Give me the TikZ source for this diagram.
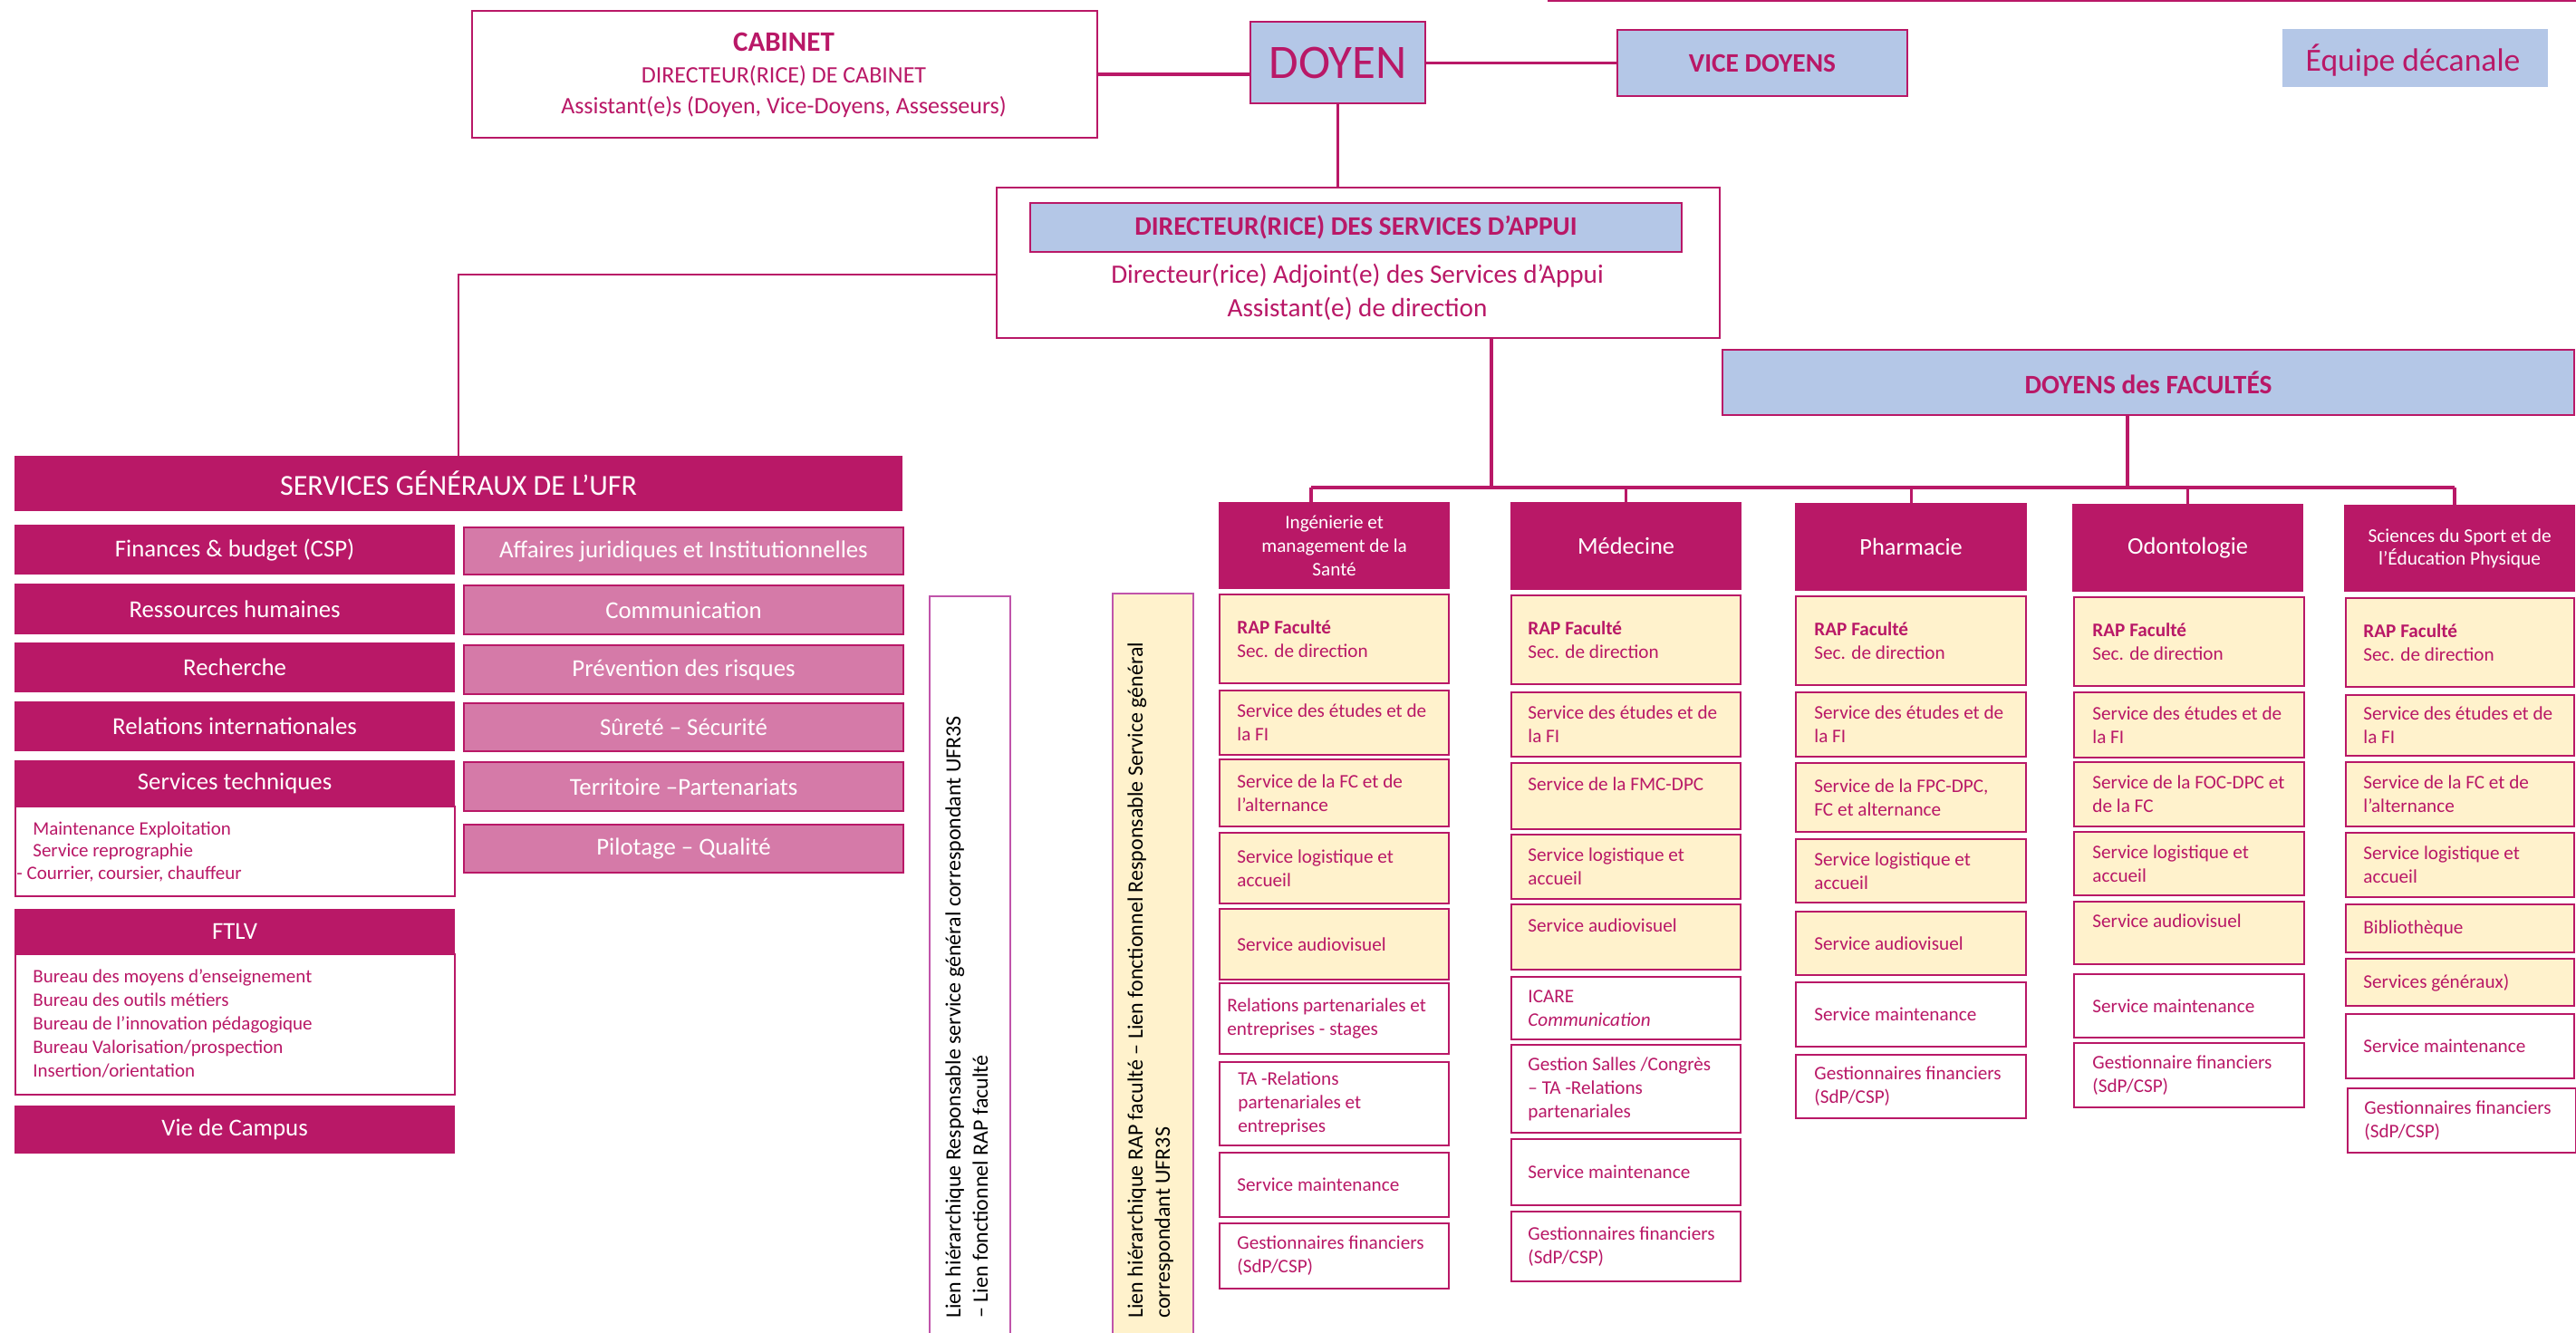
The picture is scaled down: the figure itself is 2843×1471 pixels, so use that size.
\documentclass[tikz,border=0pt]{standalone}
\usepackage{fontspec}
\setmainfont{Carlito}
\definecolor{mag}{RGB}{185,24,103}
\definecolor{pinkl}{RGB}{213,122,168}
\definecolor{blu}{RGB}{180,199,231}
\definecolor{yel}{RGB}{255,242,204}
\definecolor{vbord}{RGB}{192,84,170}
\newcommand\mkbox[6]{%
  \pgfmathsetmacro\mbw{(#5-#3)*0.5}%
  \pgfmathsetmacro\mbh{(#6-#4)*0.5}%
  \node[#2, anchor=north west, minimum width=\mbw pt, minimum height=\mbh pt, inner sep=0pt] (#1) at (#3,#4) {};}
\newcommand\sub[8]{\mkbox{#1}{#2}{#3}{#4}{#5}{#6}%
  \node[ftxt, anchor=west, align=left, inner sep=0pt] (#1-t) at ([xshift=#7*0.5pt]#1.west) {#8};}
\newcommand\cbox[7]{\mkbox{#1}{#2}{#3}{#4}{#5}{#6}%
  \node[wtxt] (#1-t) at (#1.center) {#7};}
\begin{document}
\begin{tikzpicture}[x=0.5pt,y=-0.5pt,
  bluebox/.style={fill=blu, draw=mag, line width=1pt},
  magbox/.style={fill=mag, draw=mag, line width=0.6pt},
  pkbox/.style={fill=pinkl, draw=mag, line width=1pt},
  ybox/.style={fill=yel, draw=mag, line width=1.1pt},
  wbox/.style={fill=white, draw=mag, line width=1.1pt},
  cn/.style={draw=mag, line width=1.6pt},
  ftxt/.style={text=mag, font=\fontsize{10.6}{13}\selectfont},
  wtxt/.style={text=white, font=\fontsize{13.4}{16}\selectfont},
  hd/.style={text=mag, font=\fontsize{14.7}{18}\selectfont\bfseries},
  vtxt/.style={rotate=90, anchor=north west, align=left, inner sep=0pt, text=black, font=\fontsize{12}{15}\selectfont}
]
\fill[white] (0,0) rectangle (2843,1471);
\useasboundingbox (0,0) rectangle (2843,1471);

% top line
\coordinate (tlA) at (1708,1.5);
\coordinate (tlB) at (2843,1.5);
\draw[mag, line width=1pt] (tlA) -- (tlB);

% ---------- top level
\mkbox{cab}{wbox}{520}{11}{1210}{151}
\node[text=mag, align=center, font=\fontsize{13}{17.25}\selectfont] (cab-t) at (865,83)
  {{\fontsize{15.5}{17.25}\selectfont\bfseries CABINET}\\DIRECTEUR(RICE) DE CABINET\\Assistant(e)s (Doyen, Vice-Doyens, Assesseurs)};

\mkbox{doyen}{bluebox}{1379}{23}{1572}{113}
\node[text=mag, font=\fontsize{26.5}{30}\selectfont] (doyen-t) at (doyen.center) {DOYEN};

\mkbox{vice}{bluebox}{1784}{32}{2104}{105}
\node[hd] (vice-t) at (vice.center) {VICE DOYENS};

\mkbox{equipe}{fill=blu}{2519}{32}{2812}{96}
\node[text=mag, font=\fontsize{17.8}{20}\selectfont, anchor=base] (equipe-t) at (2663,79) {Équipe décanale};

\draw[cn] (cab.east) -- (cab.east -| doyen.west);
\draw[cn] (vice.west -| doyen.east) -- (vice.west);

% ---------- direction services d'appui
\mkbox{dsa}{wbox}{1099}{206}{1897}{372}
\mkbox{dsah}{bluebox}{1136}{223}{1855}{277}
\node[hd] (dsah-t) at (dsah.center) {DIRECTEUR(RICE) DES SERVICES D’APPUI};
\node[text=mag, align=center, font=\fontsize{14.6}{18.5}\selectfont] (dsa-t) at (1498,322)
  {Directeur(rice) Adjoint(e) des Services d’Appui\\Assistant(e) de direction};
\draw[cn] (doyen.south) -- (doyen.south |- dsa.north);

% ---------- doyens des facultes
\mkbox{dfac}{bluebox}{1900}{385}{2840}{457}
\node[hd] (dfac-t) at (dfac.center) {DOYENS des FACULTÉS};

% ---------- faculty headers
\mkbox{fac1}{magbox}{1345}{554}{1599}{649}
\node[text=white, align=center, font=\fontsize{10.6}{13}\selectfont] (fac1-t) at (fac1.center) {Ingénierie et\\management de la\\Santé};
\mkbox{fac2}{magbox}{1667}{554}{1921}{650}
\node[text=white, font=\fontsize{13.2}{16}\selectfont] (fac2-t) at (fac2.center) {Médecine};
\mkbox{fac3}{magbox}{1981}{555}{2236}{651}
\node[text=white, font=\fontsize{13.2}{16}\selectfont] (fac3-t) at (fac3.center) {Pharmacie};
\mkbox{fac4}{magbox}{2287}{556}{2541}{652}
\node[text=white, font=\fontsize{13.2}{16}\selectfont] (fac4-t) at (fac4.center) {Odontologie};
\mkbox{fac5}{magbox}{2587}{557}{2841}{652}
\node[text=white, align=center, font=\fontsize{10.7}{12.5}\selectfont] (fac5-t) at (fac5.center) {Sciences du Sport et de\\l’Éducation Physique};

% bus
\coordinate (dsaB) at (1646,372);
\coordinate (dfacB) at (2348,457);
\coordinate (busL) at (1447,538);
\coordinate (busR) at (2709,538);
\draw[cn] (busL) -- (busR);
\draw[cn] (dsaB) -- (dsaB |- busL);
\draw[cn] (dfacB) -- (dfacB |- busL);
\draw[cn] (busL) -- (busL |- fac1.north);
\draw[cn] (fac2.north |- busL) -- (fac2.north);
\draw[cn] (fac3.north |- busL) -- (fac3.north);
\draw[cn] (fac4.north |- busL) -- (fac4.north);
\draw[cn] (busR) -- (busR |- fac5.north);

% ---------- column 1
\sub{c1a}{ybox}{1345}{655}{1598}{753}{20}{\textbf{RAP Faculté}\\Sec. de direction}
\sub{c1b}{ybox}{1345}{761}{1598}{832}{20}{Service des études et de\\la FI}
\sub{c1c}{ybox}{1345}{837}{1598}{911}{20}{Service de la FC et de\\l’alternance}
\sub{c1d}{ybox}{1345}{918}{1598}{996}{20}{Service logistique et\\accueil}
\sub{c1e}{ybox}{1345}{1002}{1598}{1080}{20}{Service audiovisuel}
\sub{c1f}{wbox}{1345}{1084}{1598}{1162}{9}{Relations partenariales et\\entreprises - stages}
\sub{c1g}{wbox}{1345}{1171}{1598}{1263}{21}{TA -Relations\\partenariales et\\entreprises}
\sub{c1h}{wbox}{1345}{1271}{1598}{1342}{20}{Service maintenance}
\sub{c1i}{wbox}{1345}{1349}{1598}{1421}{20}{Gestionnaires financiers\\(SdP/CSP)}

% ---------- column 2
\sub{c2a}{ybox}{1667}{656}{1920}{754}{19}{\textbf{RAP Faculté}\\Sec. de direction}
\sub{c2b}{ybox}{1667}{763}{1920}{834}{19}{Service des études et de\\la FI}
\sub{c2c}{ybox}{1667}{841}{1920}{914}{19}{Service de la FMC-DPC\\\phantom{X}}
\sub{c2d}{ybox}{1667}{920}{1920}{991}{19}{Service logistique et\\accueil}
\sub{c2e}{ybox}{1667}{997}{1920}{1069}{19}{Service audiovisuel\\\phantom{X}}
\sub{c2f}{wbox}{1667}{1077}{1920}{1146}{19}{ICARE\\\textit{Communication}}
\sub{c2g}{wbox}{1667}{1152}{1920}{1249}{19}{Gestion Salles /Congrès\\– TA -Relations\\partenariales}
\sub{c2h}{wbox}{1667}{1256}{1920}{1329}{19}{Service maintenance}
\sub{c2i}{wbox}{1667}{1336}{1920}{1413}{19}{Gestionnaires financiers\\(SdP/CSP)}

% ---------- column 3
\sub{c3a}{ybox}{1981}{657}{2235}{755}{21}{\textbf{RAP Faculté}\\Sec. de direction}
\sub{c3b}{ybox}{1981}{763}{2235}{834}{21}{Service des études et de\\la FI}
\sub{c3c}{ybox}{1981}{841}{2235}{917}{21}{Service de la FPC-DPC,\\FC et alternance}
\sub{c3d}{ybox}{1981}{925}{2235}{995}{21}{Service logistique et\\accueil}
\sub{c3e}{ybox}{1981}{1005}{2235}{1075}{21}{Service audiovisuel}
\sub{c3f}{wbox}{1981}{1083}{2235}{1154}{21}{Service maintenance}
\sub{c3g}{wbox}{1981}{1163}{2235}{1233}{21}{Gestionnaires financiers\\(SdP/CSP)}

% ---------- column 4
\sub{c4a}{ybox}{2288}{658}{2542}{756}{21}{\textbf{RAP Faculté}\\Sec. de direction}
\sub{c4b}{ybox}{2288}{763}{2542}{835}{21}{Service des études et de\\la FI}
\sub{c4c}{ybox}{2288}{840}{2542}{911}{21}{Service de la FOC-DPC et\\de la FC}
\sub{c4d}{ybox}{2288}{917}{2542}{987}{21}{Service logistique et\\accueil}
\sub{c4e}{ybox}{2288}{994}{2542}{1063}{21}{Service audiovisuel\\\phantom{X}}
\sub{c4f}{wbox}{2288}{1074}{2542}{1144}{21}{Service maintenance}
\sub{c4g}{wbox}{2288}{1150}{2542}{1221}{21}{Gestionnaire financiers\\(SdP/CSP)}

% ---------- column 5
\sub{c5a}{ybox}{2588}{659}{2840}{757}{20}{\textbf{RAP Faculté}\\Sec. de direction}
\sub{c5b}{ybox}{2588}{766}{2840}{833}{20}{Service des études et de\\la FI}
\sub{c5c}{ybox}{2588}{840}{2840}{911}{20}{Service de la FC et de\\l’alternance}
\sub{c5d}{ybox}{2588}{918}{2840}{989}{20}{Service logistique et\\accueil}
\sub{c5e}{ybox}{2588}{997}{2840}{1050}{20}{Bibliothèque}
\sub{c5f}{ybox}{2588}{1057}{2840}{1109}{20}{Services généraux)}
\sub{c5g}{wbox}{2588}{1118}{2840}{1189}{20}{Service maintenance}
\sub{c5h}{wbox}{2590}{1200}{2842}{1271}{19}{Gestionnaires financiers\\(SdP/CSP)}

% ---------- vertical text boxes
\mkbox{vb1}{fill=white, draw=vbord, line width=1pt}{1025}{657}{1114}{1490}
\node[vtxt] (vb1-t) at (1043,1455) {Lien hiérarchique Responsable service général correspondant UFR3S\\– Lien fonctionnel RAP faculté};
\mkbox{vb2}{fill=yel, draw=vbord, line width=1pt}{1227}{654}{1316}{1490}
\node[vtxt] (vb2-t) at (1244,1455) {Lien hiérarchique RAP faculté – Lien fonctionnel Responsable Service général\\correspondant UFR3S};

% ---------- services generaux
\mkbox{sg}{magbox}{16}{503}{995}{563}
\node[text=white, font=\fontsize{16}{19}\selectfont] (sg-t) at (sg.center) {SERVICES GÉNÉRAUX DE L’UFR};
\coordinate (dsaL) at (1099,303);
\draw[cn, line width=1.2pt] (dsaL) -| (sg.north);

\cbox{fin}{magbox}{16}{579}{501}{633}{Finances \& budget (CSP)}
\cbox{rh}{magbox}{16}{644}{501}{699}{Ressources humaines}
\cbox{rech}{magbox}{16}{709}{501}{763}{Recherche}
\cbox{ri}{magbox}{16}{774}{501}{828}{Relations internationales}
\cbox{st}{magbox}{16}{839}{501}{889}{Services techniques}
\mkbox{stb}{wbox}{16}{889}{501}{988}
\node[text=mag, anchor=west, align=left, inner sep=0pt, font=\fontsize{10.5}{12.25}\selectfont] (stb-t) at (36,940)
  {Maintenance Exploitation\\Service reprographie\\\hspace*{-9pt}- Courrier, coursier, chauffeur};
\cbox{ftlv}{magbox}{16}{1003}{501}{1052}{FTLV}
\mkbox{ftlvb}{wbox}{16}{1052}{501}{1207}
\node[text=mag, anchor=west, align=left, inner sep=0pt, font=\fontsize{10.5}{13}\selectfont] (ftlvb-t) at (36,1130)
  {Bureau des moyens d’enseignement\\Bureau des outils métiers\\Bureau de l’innovation pédagogique\\Bureau Valorisation/prospection\\Insertion/orientation};
\cbox{vie}{magbox}{16}{1220}{501}{1272}{Vie de Campus}

\cbox{aj}{pkbox}{511}{581}{996}{633}{Affaires juridiques et Institutionnelles}
\cbox{com}{pkbox}{511}{645}{996}{699}{Communication}
\cbox{prev}{pkbox}{511}{711}{996}{765}{Prévention des risques}
\cbox{sur}{pkbox}{511}{775}{996}{828}{Sûreté – Sécurité}
\cbox{ter}{pkbox}{511}{840}{996}{894}{Territoire –Partenariats}
\cbox{pil}{pkbox}{511}{909}{996}{962}{Pilotage – Qualité}
\end{tikzpicture}
\end{document}
